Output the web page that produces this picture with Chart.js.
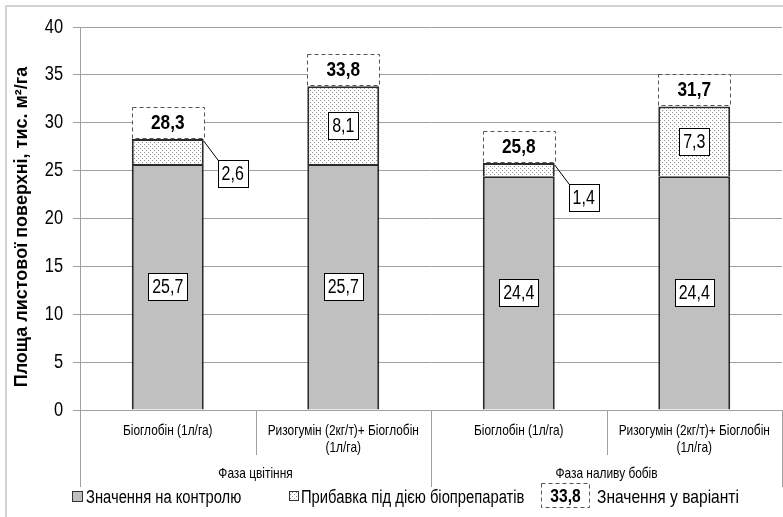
<!DOCTYPE html>
<html><head><meta charset="utf-8">
<script src="https://cdn.jsdelivr.net/npm/chart.js@4/dist/chart.umd.min.js"></script>
<style>html,body{margin:0;padding:0;background:#fff}#wrap{position:relative;width:783px;height:517px}</style>
</head><body><div id="wrap"><canvas id="c" width="783" height="517"></canvas></div>
<script>
const categories = [["Біоглобін (1л/га)"],["Ризогумін (2кг/т)+ Біоглобін","(1л/га)"],["Біоглобін (1л/га)"],["Ризогумін (2кг/т)+ Біоглобін","(1л/га)"]];
const groups = ["Фаза цвітіння","Фаза наливу бобів"];
const groupSizes = [2,2];
const controlValues = [25.7,25.7,24.4,24.4];
const increaseValues = [2.6,8.1,1.4,7.3];
const totalValues = [28.3,33.8,25.8,31.7];
const seriesNames = ["Значення на контролю","Прибавка під дією біопрепаратів","Значення у варіанті"];
const legendSample = "33,8";
const yTitle = "Площа листової поверхні, тис. м²/га";
const yMin = 0, yMax = 40, yStep = 5;

const REG = "'Liberation Sans',Arial,sans-serif";
const SX = 0.82; // narrow-face emulation
const GRID = '#a0a0a0';
const fmt = v => v.toFixed(1).replace('.', ',');

function makePattern(ctx){
  const p = document.createElement('canvas'); p.width = 4; p.height = 4;
  const g = p.getContext('2d');
  g.fillStyle = '#fff'; g.fillRect(0,0,4,4);
  g.fillStyle = '#8c8c8c'; g.fillRect(0,0,1,1); g.fillRect(2,2,1,1);
  return ctx.createPattern(p,'repeat');
}
const canvas = document.getElementById('c');
const ctx0 = canvas.getContext('2d');
const dotPattern = makePattern(ctx0);

function nText(ctx, text, x, y, font, align){
  ctx.save();
  ctx.font = font; ctx.textAlign = align || 'center'; ctx.textBaseline = 'middle';
  ctx.fillStyle = '#000';
  ctx.translate(x, y); ctx.scale(SX, 1);
  ctx.fillText(text, 0, 0);
  ctx.restore();
}
function nWidth(ctx, text, font){
  ctx.save(); ctx.font = font; const w = ctx.measureText(text).width * SX; ctx.restore(); return w;
}

function boxLabel(ctx, text, cx, cy, font){
  const w = nWidth(ctx, text, font);
  const bw = Math.round(w + 8), bh = 27;
  const x = Math.round(cx - bw/2) + 0.5, y = Math.round(cy - bh/2) + 0.5;
  ctx.save();
  ctx.fillStyle = '#fff'; ctx.fillRect(x, y, bw, bh);
  ctx.strokeStyle = '#000'; ctx.lineWidth = 1;
  ctx.strokeRect(x, y, bw, bh);
  ctx.restore();
  nText(ctx, text, cx, cy + 1, font, 'center');
  return bw;
}

const labelPlugin = {
  id: 'labels',
  afterDatasetsDraw(chart){
    const ctx = chart.ctx;
    const m0 = chart.getDatasetMeta(0).data, m1 = chart.getDatasetMeta(1).data;
    const valFont = `19.5px ${REG}`;
    for (let i = 0; i < controlValues.length; i++){
      const b0 = m0[i], b1 = m1[i];
      boxLabel(ctx, fmt(controlValues[i]), b0.x, (b0.y + b0.base)/2, valFont);
      const segH = b1.base - b1.y;
      if (segH > 40){
        boxLabel(ctx, fmt(increaseValues[i]), b1.x, (b1.y + b1.base)/2, valFont);
      } else {
        const bw = Math.round(nWidth(ctx, fmt(increaseValues[i]), valFont) + 8);
        const right = b1.x + b1.width/2;
        const bx = right + 14, by = b1.y + 21;
        ctx.save();
        ctx.strokeStyle = '#000'; ctx.lineWidth = 1;
        ctx.beginPath(); ctx.moveTo(right, b1.y + 2); ctx.lineTo(bx + 1, by + 1); ctx.stroke();
        ctx.restore();
        boxLabel(ctx, fmt(increaseValues[i]), bx + bw/2, by + 13.5, valFont);
      }
      const left = b1.x - b1.width/2, w = b1.width;
      ctx.save();
      ctx.strokeStyle = '#555'; ctx.lineWidth = 1; ctx.setLineDash([4,3]);
      ctx.fillStyle = '#fff';
      const top = Math.round(b1.y - 32) + 0.5;
      ctx.fillRect(Math.round(left)+0.5, top, Math.round(w), 31);
      ctx.strokeRect(Math.round(left)+0.5, top, Math.round(w), 31);
      ctx.restore();
      nText(ctx, fmt(totalValues[i]), b1.x, top + 16, `bold 21px ${REG}`, 'center');
    }
  }
};

const axisPlugin = {
  id: 'axes',
  afterDraw(chart){
    const ctx = chart.ctx, xs = chart.scales.x, ys = chart.scales.y, area = chart.chartArea;
    const n = categories.length;
    const pos = i => xs.getPixelForValue(i);
    const step = pos(1) - pos(0);
    const bounds = [];
    for (let i = 0; i <= n; i++) bounds.push(pos(0) - step/2 + i*step);
    ys.ticks.forEach(t => {
      nText(ctx, String(t.value), 63, ys.getPixelForValue(t.value), `20px ${REG}`, 'right');
    });
    ctx.save();
    ctx.translate(22, 227); ctx.rotate(-Math.PI/2);
    ctx.font = `bold 18px ${REG}`; ctx.fillStyle = '#000'; ctx.textAlign = 'center'; ctx.textBaseline = 'middle';
    ctx.fillText(yTitle, 0, 0);
    ctx.restore();

    ctx.save();
    ctx.strokeStyle = GRID; ctx.lineWidth = 1;
    const bottom = area.bottom;
    let gIdx = 0; const groupEnds = [0];
    groupSizes.forEach(s => { gIdx += s; groupEnds.push(gIdx); });
    for (let i = 0; i <= n; i++){
      const x = Math.round(bounds[i]) + 0.5;
      const isGroup = groupEnds.includes(i);
      ctx.beginPath(); ctx.moveTo(x, bottom); ctx.lineTo(x, isGroup ? bottom + 77 : bottom + 45); ctx.stroke();
    }
    ctx.restore();
    const catFont = `14.5px ${REG}`;
    categories.forEach((lines, i) => {
      lines.forEach((t, k) => nText(ctx, t, pos(i), bottom + 21 + k*17, catFont, 'center'));
    });
    groups.forEach((g, k) => {
      const cx = (bounds[groupEnds[k]] + bounds[groupEnds[k+1]]) / 2;
      nText(ctx, g, cx, bottom + 64, catFont, 'center');
    });
    const ly = 497;
    const legFont = `18px ${REG}`;
    ctx.save();
    ctx.lineWidth = 1;
    ctx.fillStyle = '#c0c0c0'; ctx.fillRect(72.5, ly - 5.5, 10, 10);
    ctx.strokeStyle = '#333'; ctx.strokeRect(72.5, ly - 5.5, 10, 10);
    ctx.fillStyle = dotPattern; ctx.fillRect(289.5, ly - 5.5, 9, 9);
    ctx.strokeStyle = '#333'; ctx.strokeRect(289.5, ly - 5.5, 9, 9);
    ctx.setLineDash([4,3]); ctx.strokeStyle = '#555';
    ctx.strokeRect(541.5, 483.5, 48, 24);
    ctx.restore();
    nText(ctx, seriesNames[0], 86, ly + 1, legFont, 'left');
    nText(ctx, seriesNames[1], 301, ly + 1, legFont, 'left');
    nText(ctx, legendSample, 565.5, ly, `bold 19px ${REG}`, 'center');
    nText(ctx, seriesNames[2], 597, ly + 1, `19px ${REG}`, 'left');
    ctx.save();
    ctx.strokeStyle = '#d4d4d4'; ctx.lineWidth = 2;
    ctx.beginPath(); ctx.moveTo(6, 520); ctx.lineTo(6, 6); ctx.lineTo(790, 6); ctx.stroke();
    ctx.restore();
  }
};

new Chart(canvas, {
  type: 'bar',
  data: {
    labels: categories.map(c => c.join(' ')),
    datasets: [
      {label: seriesNames[0], data: controlValues, backgroundColor: '#c0c0c0', borderColor: '#2b2b2b', borderWidth: 2},
      {label: seriesNames[1], data: increaseValues, backgroundColor: dotPattern, borderColor: '#2b2b2b', borderWidth: 2}
    ]
  },
  options: {
    responsive: false, animation: false, devicePixelRatio: 1,
    layout: {padding: {top: 27, right: 1, left: 0, bottom: 0}},
    datasets: {bar: {barPercentage: 0.41, categoryPercentage: 1}},
    plugins: {legend: {display: false}, tooltip: {enabled: false}},
    scales: {
      x: {stacked: true, ticks: {display: false}, grid: {display: false}, border: {color: GRID},
          afterFit(s){ s.height = 107; }},
      y: {stacked: true, min: yMin, max: yMax,
          ticks: {stepSize: yStep, display: false},
          grid: {color: GRID, tickLength: 7, tickColor: GRID},
          border: {color: GRID},
          afterFit(s){ s.width = 80; }}
    }
  },
  plugins: [labelPlugin, axisPlugin]
});
</script></body></html>
